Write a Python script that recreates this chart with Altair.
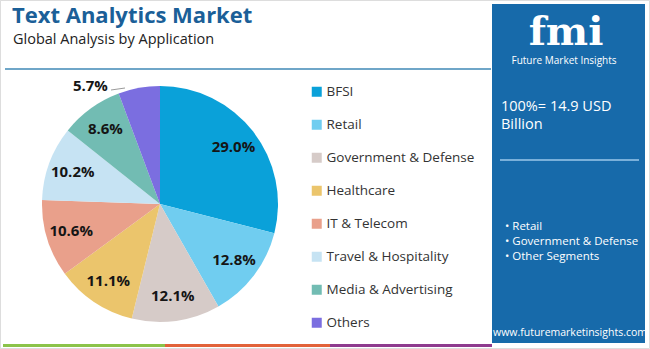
import altair as alt
import pandas as pd
import math

categories = ["BFSI", "Retail", "Government & Defense", "Healthcare",
              "IT & Telecom", "Travel & Hospitality", "Media & Advertising", "Others"]
shares = [29.0, 12.8, 12.1, 11.1, 10.6, 10.2, 8.6, 5.7]
colors = ["#0aa1d9", "#70cdf0", "#d6cbc8", "#ebc56c",
          "#e9a08b", "#c6e3f3", "#72bcb3", "#7b6ee0"]
panel_bullets = ["• Retail", "• Government & Defense", "• Other Segments"]

total = sum(shares)
starts, ends = [], []
acc = 0.0
for s in shares:
    starts.append(acc)
    acc += s
    ends.append(acc)

df = pd.DataFrame({
    "category": categories,
    "share": shares,
    "start": starts,
    "end": ends,
    "mid": [(a + b) / 2 for a, b in zip(starts, ends)],
    "label": [f"{s:.1f}%" for s in shares],
    "order": list(range(len(categories))),
})

FONT = "Open Sans"
CX, CY = 160, 204

theta_scale = alt.Scale(domain=[0, total], range=[0, 2 * math.pi])
color_scale = alt.Scale(domain=categories, range=colors)

one = alt.Data(values=[{"a": 1}])

frame = alt.Chart(one).mark_rect(fill="white", stroke="#dddddd", strokeWidth=1).encode(
    x=alt.value(0.5), x2=alt.value(649.5), y=alt.value(0.5), y2=alt.value(348.5))

title = alt.Chart(one).mark_text(
    text="Text Analytics Market", font=FONT, fontSize=22, fontWeight="bold",
    color="#1b5f98", align="left", baseline="middle").encode(
    x=alt.value(12), y=alt.value(16))
subtitle = alt.Chart(one).mark_text(
    text="Global Analysis by Application", font=FONT, fontSize=14.5,
    color="#222222", align="left", baseline="middle").encode(
    x=alt.value(13), y=alt.value(40))
top_rule = alt.Chart(one).mark_rule(color="#6fa6c8", strokeWidth=2).encode(
    x=alt.value(5), x2=alt.value(491), y=alt.value(69))

arcs = alt.Chart(df).mark_arc(radius=118).encode(
    theta=alt.Theta("start:Q", scale=theta_scale),
    theta2="end:Q",
    color=alt.Color("category:N", scale=color_scale, sort=categories,
                    legend=alt.Legend(title=None, orient="none", legendX=310, legendY=85,
                                      symbolType="square", symbolSize=100,
                                      symbolStrokeWidth=0, labelFontSize=13.5,
                                      labelFont=FONT, labelColor="#333333",
                                      rowPadding=18, labelOffset=3, padding=0)),
    x=alt.value(CX), y=alt.value(CY),
)

labels = alt.Chart(df).transform_filter(alt.datum.category != "Others").mark_text(
    radius=93, font=FONT, fontSize=15, fontWeight="bold", color="#151515",
    align="center", baseline="middle").encode(
    theta=alt.Theta("mid:Q", scale=theta_scale),
    text="label:N",
    x=alt.value(CX), y=alt.value(CY),
)

others_label = alt.Chart(df).transform_filter(alt.datum.category == "Others").mark_text(
    radius=130, font=FONT, fontSize=15, fontWeight="bold", color="#151515",
    align="right", baseline="middle", dx=-29, dy=10).encode(
    theta=alt.Theta("mid:Q", scale=theta_scale),
    text="label:N",
    x=alt.value(CX), y=alt.value(CY),
)

leader = alt.Chart(one).mark_rule(color="#9a9a9a", strokeWidth=1).encode(
    x=alt.value(111), x2=alt.value(125), y=alt.value(90), y2=alt.value(88))

panel = alt.Chart(one).mark_rect(fill="#176aaa").encode(
    x=alt.value(492), x2=alt.value(645), y=alt.value(4), y2=alt.value(343))

logo = alt.Chart(one).mark_text(
    text="fmi", font="DejaVu Serif", fontSize=40, fontWeight="bold", color="white",
    align="center", baseline="alphabetic").encode(x=alt.value(566), y=alt.value(45))
logo_sub = alt.Chart(one).mark_text(
    text="Future Market Insights", font=FONT, fontSize=10, color="white",
    align="center", baseline="middle").encode(x=alt.value(564), y=alt.value(61))

total_txt1 = alt.Chart(one).mark_text(
    text="100%= 14.9 USD", font=FONT, fontSize=14.5, color="white",
    align="left", baseline="middle").encode(x=alt.value(501), y=alt.value(107))
total_txt2 = alt.Chart(one).mark_text(
    text="Billion", font=FONT, fontSize=14.5, color="white",
    align="left", baseline="middle").encode(x=alt.value(501), y=alt.value(125))
panel_rule = alt.Chart(one).mark_rule(color="#9cc8ea", strokeWidth=1.5).encode(
    x=alt.value(500), x2=alt.value(639), y=alt.value(160))

bullets_df = pd.DataFrame({"t": panel_bullets, "i": [0, 1, 2]})
bullets = alt.Chart(bullets_df).mark_text(
    font=FONT, fontSize=11.5, color="white", align="left", baseline="middle").encode(
    text="t:N",
    x=alt.value(505),
    y=alt.Y("i:Q", scale=alt.Scale(domain=[0, 2], range=[227, 257]), axis=None),
)

url = alt.Chart(one).mark_text(
    text="www.futuremarketinsights.com", font=FONT, fontSize=10.5, color="white",
    align="center", baseline="middle").encode(x=alt.value(570), y=alt.value(333))

green = alt.Chart(one).mark_rule(color="#8bc34a", strokeWidth=3).encode(
    x=alt.value(3), x2=alt.value(165), y=alt.value(345.5))
orange = alt.Chart(one).mark_rule(color="#e2623a", strokeWidth=3).encode(
    x=alt.value(165), x2=alt.value(330), y=alt.value(345.5))
purple = alt.Chart(one).mark_rule(color="#8e3b8e", strokeWidth=3).encode(
    x=alt.value(330), x2=alt.value(492), y=alt.value(345.5))

chart = alt.layer(
    frame, title, subtitle, top_rule, arcs, labels, others_label, leader,
    panel, logo, logo_sub, total_txt1, total_txt2, panel_rule, bullets, url,
    green, orange, purple,
).resolve_scale(y="independent").properties(
    width=650, height=349,
    autosize=alt.AutoSizeParams(type="none"),
    padding=0,
).configure_view(stroke=None).configure(background="white")

chart.save("out.html", embed_options={"renderer": "svg", "actions": False})
